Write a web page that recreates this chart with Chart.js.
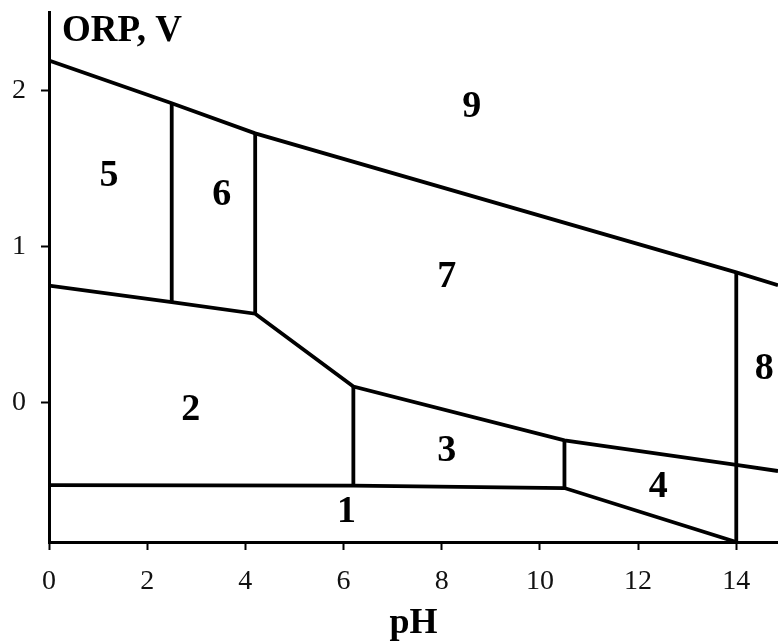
<!DOCTYPE html>
<html>
<head>
<meta charset="utf-8">
<script src="https://cdn.jsdelivr.net/npm/chart.js@4"></script>
<style>
    body { margin: 0; background: #fff; }
</style>
</head>
<body>
<canvas id="orpChart" width="778" height="641"></canvas>
<script>
// boundary lines of the diagram (pH, ORP in V)
var upperPH = [0, 2.5, 4.2, 14, 14.85];
var upperORP = [2.19, 1.916, 1.724, 0.835, 0.752];

var middlePH = [0, 2.5, 4.2, 6.2, 10.5, 14, 14.85];
var middleORP = [0.75, 0.644, 0.57, 0.104, -0.24, -0.397, -0.436];

var lowerPH = [0, 6.2, 10.5, 14];
var lowerORP = [-0.526, -0.53, -0.545, -0.89];

// vertical dividers
var dividerPH = [2.5, 4.2, 6.2, 10.5, 14];
var dividerFrom = [0.644, 0.57, 0.104, -0.24, -0.89];
var dividerTo = [1.916, 1.724, -0.53, -0.545, 0.835];

// region numbers
var regionNames = ['1', '2', '3', '4', '5', '6', '7', '8', '9'];
var regionPH = [6.06, 2.89, 8.10, 12.41, 1.22, 3.52, 8.10, 14.57, 8.61];
var regionORP = [-0.699, -0.045, -0.308, -0.538, 1.449, 1.327, 0.801, 0.218, 1.891];

var phTicks = [0, 2, 4, 6, 8, 10, 12, 14];
var orpTicks = [0, 1, 2];

function toPoints(xs, ys) {
    return xs.map(function (x, i) { return { x: x, y: ys[i] }; });
}

function lineSet(points) {
    return {
        data: points,
        borderColor: '#000',
        borderWidth: 3.8,
        pointRadius: 0,
        fill: false,
        tension: 0
    };
}

var datasets = [
    lineSet(toPoints(upperPH, upperORP)),
    lineSet(toPoints(middlePH, middleORP)),
    lineSet(toPoints(lowerPH, lowerORP))
];
dividerPH.forEach(function (ph, i) {
    datasets.push(lineSet([{ x: ph, y: dividerFrom[i] }, { x: ph, y: dividerTo[i] }]));
});

var labelsPlugin = {
    id: 'regionLabels',
    afterDatasetsDraw: function (chart) {
        var ctx = chart.ctx;
        var xs = chart.scales.x, ys = chart.scales.y;
        ctx.save();
        ctx.fillStyle = '#000';
        ctx.font = 'bold 38px "Liberation Serif"';
        ctx.textAlign = 'center';
        ctx.textBaseline = 'middle';
        regionNames.forEach(function (name, i) {
            ctx.fillText(name, xs.getPixelForValue(regionPH[i]), ys.getPixelForValue(regionORP[i]));
        });
        // y axis caption
        ctx.font = 'bold 37px "Liberation Serif"';
        ctx.textAlign = 'left';
        ctx.textBaseline = 'alphabetic';
        ctx.fillText('ORP, V', 62, 41);
        ctx.restore();
    }
};

var ctx = document.getElementById('orpChart').getContext('2d');
var orpChart = new Chart(ctx, {
    type: 'line',
    data: { datasets: datasets },
    options: {
        responsive: false,
        animation: false,
        layout: { padding: { top: 12, right: 0, left: 0, bottom: 0 } },
        plugins: {
            legend: { display: false },
            tooltip: { enabled: false }
        },
        scales: {
            x: {
                type: 'linear',
                min: 0,
                max: 14.85,
                afterBuildTicks: function (scale) {
                    scale.ticks = phTicks.map(function (v) { return { value: v }; });
                },
                afterFit: function (scale) {
                    scale.height = 99;
                    scale.paddingLeft = 0;
                    scale.paddingRight = 0;
                },
                grid: { drawOnChartArea: false, tickLength: 8, tickColor: '#000', tickWidth: 2 },
                border: { color: '#000', width: 3 },
                ticks: {
                    color: '#111',
                    padding: 15,
                    maxRotation: 0,
                    font: { family: 'Liberation Serif', size: 28 }
                },
                title: {
                    display: true,
                    text: 'pH',
                    color: '#000',
                    padding: { top: 0, bottom: -4 },
                    font: { family: 'Liberation Serif', size: 36, weight: 'bold' }
                }
            },
            y: {
                type: 'linear',
                min: -0.89,
                max: 2.5,
                afterBuildTicks: function (scale) {
                    scale.ticks = orpTicks.map(function (v) { return { value: v }; });
                },
                afterFit: function (scale) {
                    scale.width = 49;
                    scale.paddingTop = 0;
                    scale.paddingBottom = 0;
                },
                grid: { drawOnChartArea: false, tickLength: 8, tickColor: '#000', tickWidth: 2 },
                border: { color: '#000', width: 3 },
                ticks: {
                    color: '#111',
                    padding: 15,
                    font: { family: 'Liberation Serif', size: 28 }
                }
            }
        }
    },
    plugins: [labelsPlugin]
});
</script>
</body>
</html>
